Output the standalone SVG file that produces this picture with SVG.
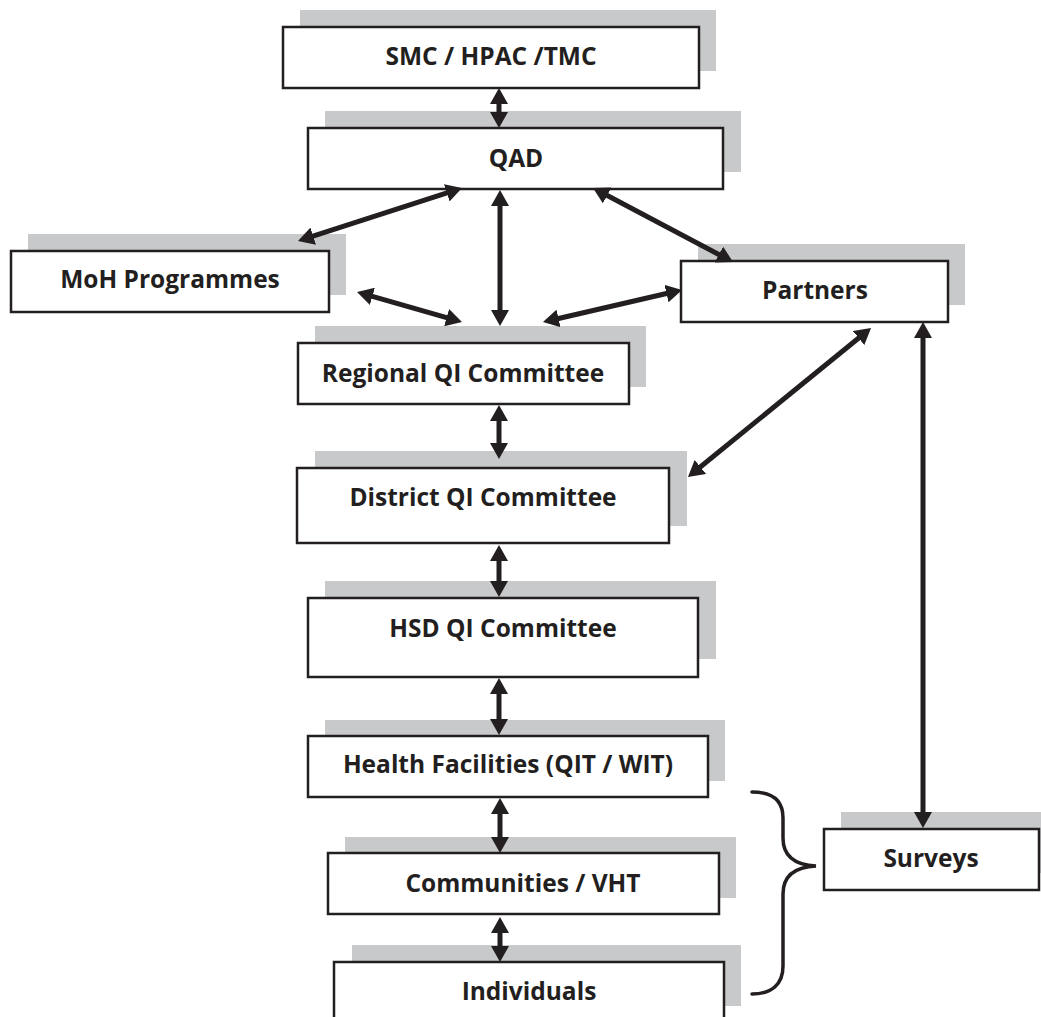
<svg xmlns="http://www.w3.org/2000/svg" width="1041" height="1017" viewBox="0 0 1041 1017">
  <style>
    .shadow { fill: #c8c9ca; }
    .box { fill: #ffffff; stroke: #231f20; stroke-width: 2.5; }
    .label { font-family: "Open Sans", "Liberation Sans", sans-serif; font-weight: bold; font-size: 24.5px; fill: #231f20; text-anchor: middle; }
    .link { stroke: #231f20; stroke-width: 5; fill: none; marker-start: url(#head); marker-end: url(#head); }
    .brace { stroke: #231f20; stroke-width: 3.5; fill: none; stroke-linecap: round; }
  </style>
  <defs>
    <!-- two-way arrowhead, tip sits 6px past the line end -->
    <marker id="head" markerUnits="userSpaceOnUse" markerWidth="16" markerHeight="18" refX="10" refY="9" orient="auto-start-reverse" viewBox="0 0 16 18">
      <path d="M0,0 L16,9 L0,18 z" fill="#231f20"/>
    </marker>
  </defs>

  <rect width="1041" height="1017" fill="#ffffff"/>

  <g id="node-smc">
    <rect class="shadow" x="300" y="10" width="416" height="61"/>
    <rect class="box" x="283" y="27" width="416" height="61"/>
    <text class="label" x="491" y="65">SMC / HPAC /TMC</text>
  </g>

  <g id="node-qad">
    <rect class="shadow" x="325" y="111" width="416" height="61"/>
    <rect class="box" x="308" y="128" width="415" height="61"/>
    <text class="label" x="516" y="167">QAD</text>
  </g>

  <g id="node-moh">
    <rect class="shadow" x="28" y="234" width="318" height="61"/>
    <rect class="box" x="11" y="251" width="318" height="61"/>
    <text class="label" x="170" y="288">MoH Programmes</text>
  </g>

  <g id="node-partners">
    <rect class="shadow" x="698" y="244" width="267" height="61"/>
    <rect class="box" x="681" y="261" width="267" height="61"/>
    <text class="label" x="815" y="299">Partners</text>
  </g>

  <g id="node-regional">
    <rect class="shadow" x="315" y="326" width="331" height="61"/>
    <rect class="box" x="298" y="343" width="331" height="61"/>
    <text class="label" x="463" y="382">Regional QI Committee</text>
  </g>

  <g id="node-district">
    <rect class="shadow" x="315" y="451" width="372" height="75"/>
    <rect class="box" x="297" y="468" width="372" height="75"/>
    <text class="label" x="483" y="506">District QI Committee</text>
  </g>

  <g id="node-hsd">
    <rect class="shadow" x="325" y="581" width="391" height="78"/>
    <rect class="box" x="308" y="598" width="390" height="79"/>
    <text class="label" x="503" y="637">HSD QI Committee</text>
  </g>

  <g id="node-facilities">
    <rect class="shadow" x="325" y="720" width="400" height="61"/>
    <rect class="box" x="308" y="736" width="400" height="61"/>
    <text class="label" x="508" y="773">Health Facilities (QIT / WIT)</text>
  </g>

  <g id="node-communities">
    <rect class="shadow" x="345" y="837" width="391" height="61"/>
    <rect class="box" x="328" y="853" width="391" height="61"/>
    <text class="label" x="523" y="892">Communities / VHT</text>
  </g>

  <g id="node-individuals">
    <rect class="shadow" x="352" y="945" width="389" height="61"/>
    <rect class="box" x="334" y="962" width="390" height="61"/>
    <text class="label" x="529" y="1000">Individuals</text>
  </g>

  <g id="node-surveys">
    <rect class="shadow" x="841" y="812" width="215" height="61"/>
    <rect class="box" x="824" y="829" width="215" height="61"/>
    <text class="label" x="931" y="867">Surveys</text>
  </g>

  <g id="connectors">
    <line class="link" x1="499" y1="94" x2="499" y2="122"/>
    <line class="link" x1="500" y1="196" x2="500" y2="320"/>
    <line class="link" x1="456.3" y1="189.8" x2="303.7" y2="239.2"/>
    <line class="link" x1="362.8" y1="293.6" x2="456.2" y2="320.4"/>
    <line class="link" x1="598.3" y1="190.8" x2="727.7" y2="259.2"/>
    <line class="link" x1="548.8" y1="320.7" x2="676.2" y2="291.3"/>
    <line class="link" x1="866.4" y1="331.8" x2="692.6" y2="473.2"/>
    <line class="link" x1="499" y1="411" x2="499" y2="453"/>
    <line class="link" x1="499" y1="551" x2="499" y2="591"/>
    <line class="link" x1="499" y1="684" x2="499" y2="729"/>
    <line class="link" x1="500" y1="804" x2="500" y2="847"/>
    <line class="link" x1="500" y1="923" x2="500" y2="956"/>
    <line class="link" x1="923" y1="328" x2="923" y2="822"/>
    <path class="brace" d="M752,792 C772,792 783,800 783,818 L783,838 C783,856 795,865 816,866 C795,867 783,876 783,894 L783,966 C783,984 772,994 752,994"/>
  </g>
</svg>
